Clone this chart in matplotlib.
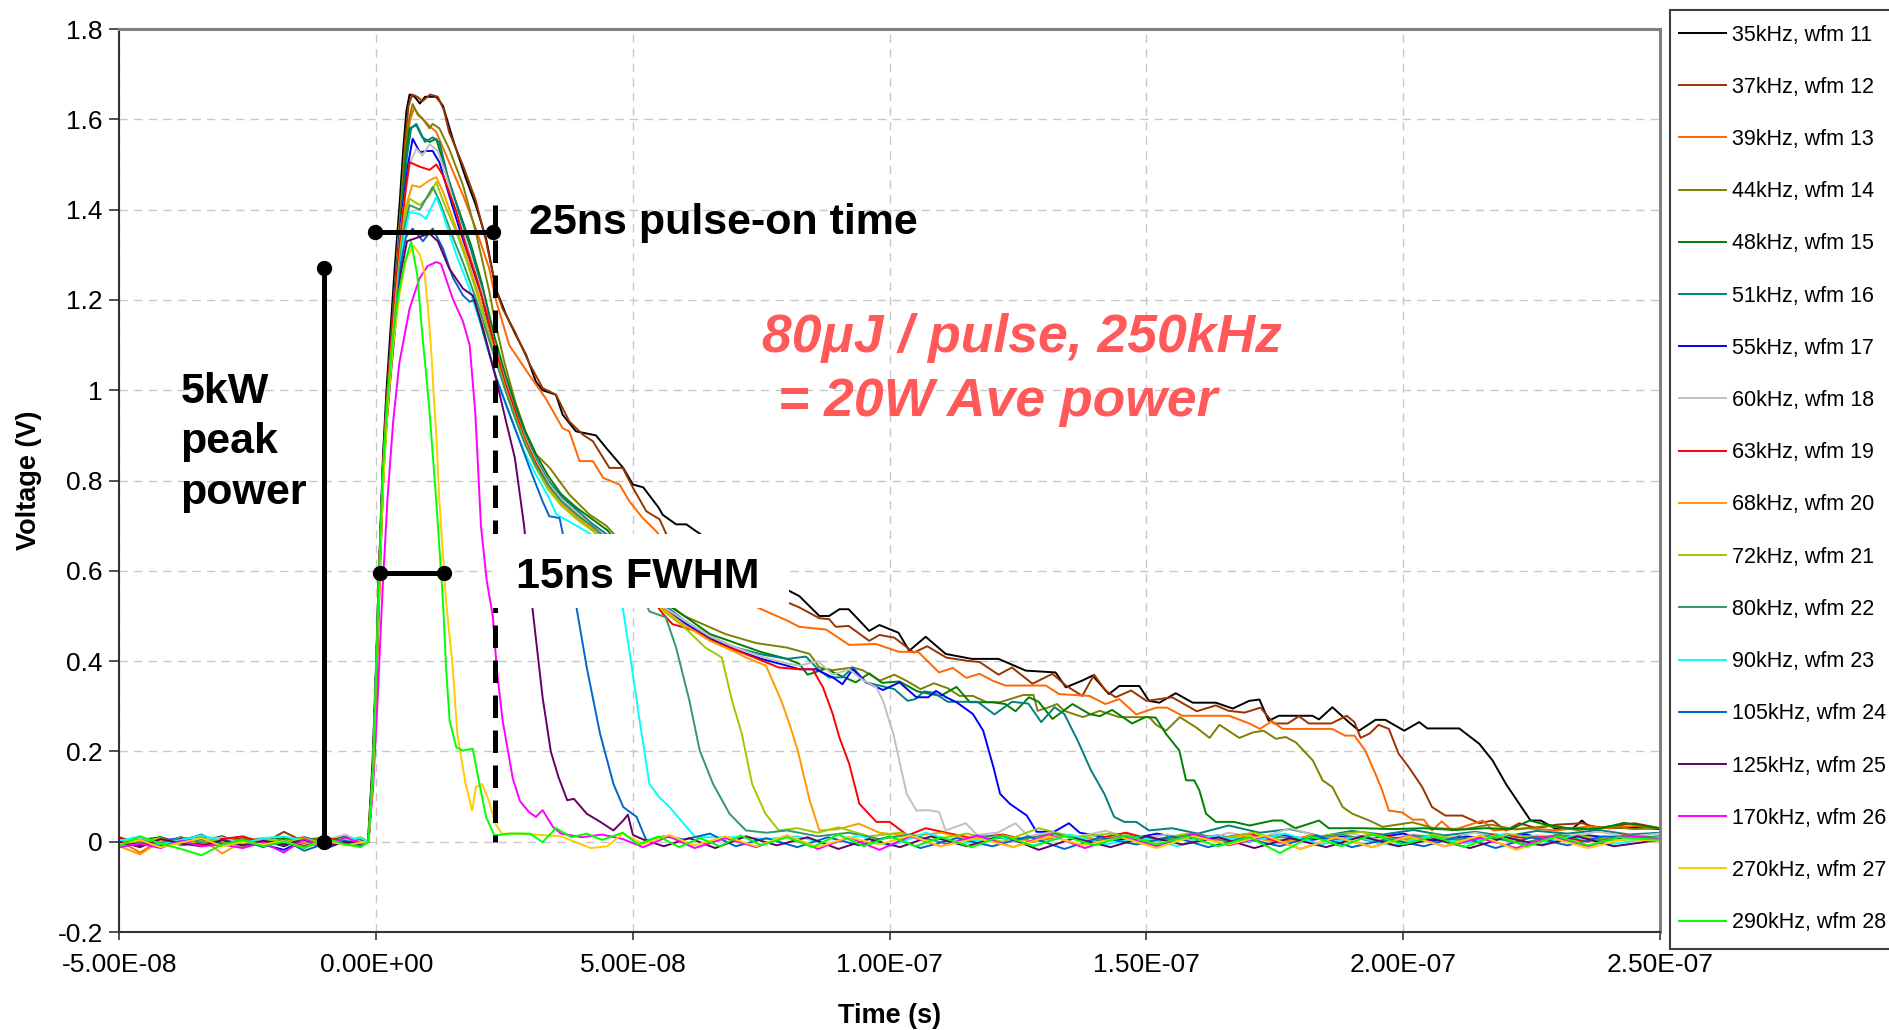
"""
Laser pulse waveforms (wfm 11 - wfm 28) at 18 rep rates, overlaid on one
time axis, with the pulse-width / peak-power call-outs drawn on top.
"""

import matplotlib
matplotlib.use("Agg")
import matplotlib.pyplot as plt
from matplotlib.patches import Rectangle

plt.rcParams['font.family'] = ['Liberation Sans', 'DejaVu Sans']

# ---------------------------------------------------------------- data
# time in ns, voltage in V. pre-trigger baseline shares one time grid
t_pre = [-50, -46, -42, -38, -34, -30, -26, -22, -18, -14, -10, -6, -3]

w11_pre = [0.005, -0.008, 0.010, -0.004, 0.002, 0.012, -0.006, 0.004, -0.010, 0.008, 0.000, -0.005, 0.004]
w11 = [(-1.6, 0.0), (-0.7, 0.18), (0.0, 0.40), (0.6, 0.62), (1.3, 0.85), (2.0, 1.0), (2.7, 1.12), (3.6, 1.27),
       (4.6, 1.42), (5.3, 1.54), (5.9, 1.62), (6.5, 1.655), (7.5, 1.65), (8.5, 1.635), (9.5, 1.65), (11.7, 1.65),
       (13.0, 1.63), (14.9, 1.557), (17.5, 1.468), (19.4, 1.41), (21.4, 1.336), (23.3, 1.225), (25.3, 1.167),
       (27.2, 1.122), (29.2, 1.078), (31.1, 1.019), (32.4, 1.0), (35.0, 0.99), (36.3, 0.946), (38.9, 0.909),
       (42.8, 0.90), (44.8, 0.872), (48.1, 0.828), (50.0, 0.791), (52.0, 0.785), (55.0, 0.74), (55.8, 0.724),
       (58.4, 0.703), (60.4, 0.703), (62, 0.69), (66, 0.66), (70, 0.63), (74, 0.60), (78, 0.57), (82.4, 0.544),
       (86.3, 0.50), (88.2, 0.50), (90.2, 0.515), (92, 0.515), (96, 0.467), (98, 0.48), (101.7, 0.463),
       (103.8, 0.423), (107, 0.454), (110.9, 0.416), (116, 0.405), (121.2, 0.405), (126.5, 0.379), (132.3, 0.375),
       (134.3, 0.342), (137.5, 0.357), (139.5, 0.368), (142.7, 0.327), (144.7, 0.345), (148.6, 0.345),
       (150.5, 0.312), (152.5, 0.308), (155.7, 0.329), (159, 0.308), (163.5, 0.308), (166.8, 0.295), (170, 0.312),
       (172, 0.315), (173.8, 0.268), (175.8, 0.279), (182.3, 0.279), (183.6, 0.271), (186.2, 0.298),
       (189.4, 0.265), (191.4, 0.246), (194.6, 0.27), (196.5, 0.27), (200.2, 0.246), (203.1, 0.265),
       (204.7, 0.251), (210.9, 0.251), (214.8, 0.217), (217.4, 0.18), (220, 0.128), (222.6, 0.084),
       (224.8, 0.047), (226.8, 0.047), (229.6, 0.029), (233, 0.029), (234.8, 0.047), (236, 0.035), (240, 0.03),
       (245, 0.032), (250, 0.028)]

w12_pre = [-0.004, 0.006, -0.002, 0.010, -0.006, 0.002, 0.008, -0.004, 0.022, 0.000, 0.006, -0.002, 0.002]
w12 = [(-1.5, 0.0), (-0.5, 0.17), (0.2, 0.40), (0.8, 0.62), (1.5, 0.84), (2.2, 0.99), (3.0, 1.12), (3.9, 1.27),
       (4.9, 1.42), (5.6, 1.55), (6.3, 1.63), (7.0, 1.655), (8.0, 1.65), (9.0, 1.64), (10.5, 1.655), (12.0, 1.65),
       (13.2, 1.62), (14.2, 1.572), (16.9, 1.498), (19.4, 1.42), (21.4, 1.33), (23.3, 1.225), (24.6, 1.181),
       (27.0, 1.13), (29.8, 1.06), (32.4, 1.005), (35.0, 0.99), (37.6, 0.931), (40.2, 0.902), (42.2, 0.887),
       (45.4, 0.828), (48.0, 0.828), (50.0, 0.784), (52.6, 0.732), (55.2, 0.714), (56.5, 0.681), (60, 0.66),
       (65, 0.62), (70, 0.59), (76, 0.55), (82.4, 0.519), (86.3, 0.495), (88.2, 0.493), (89.5, 0.476),
       (92, 0.478), (96, 0.445), (98, 0.458), (100.9, 0.452), (104.7, 0.419), (107.3, 0.433), (111, 0.408),
       (114.9, 0.401), (117.5, 0.398), (121.2, 0.37), (123.8, 0.386), (127.8, 0.35), (131.7, 0.372),
       (134.3, 0.346), (137.5, 0.323), (139.8, 0.37), (142, 0.335), (144, 0.32), (147, 0.335), (150, 0.312),
       (155, 0.32), (159.8, 0.289), (163.5, 0.302), (166, 0.29), (169.1, 0.286), (172.2, 0.297), (174.8, 0.262),
       (177.5, 0.262), (179.7, 0.278), (181.6, 0.262), (186, 0.262), (189, 0.279), (190.5, 0.265), (191.7, 0.23),
       (193.5, 0.24), (195.2, 0.259), (197.2, 0.25), (199.1, 0.195), (201.1, 0.165), (203.7, 0.121),
       (205.6, 0.077), (208.2, 0.058), (211.5, 0.058), (214.8, 0.041), (217.4, 0.047), (220, 0.025),
       (222.6, 0.041), (226, 0.03), (230, 0.038), (235, 0.041), (238, 0.03), (245, 0.041), (250, 0.03)]

w13_pre = [0.002, -0.024, 0.004, -0.006, 0.010, -0.002, 0.006, -0.008, 0.004, 0.010, -0.004, 0.006, -0.002]
w13 = [(-1.5, 0.0), (-0.5, 0.17), (0.2, 0.40), (0.8, 0.62), (1.5, 0.84), (2.3, 0.99), (3.1, 1.12), (4.0, 1.27),
       (5.0, 1.42), (5.8, 1.53), (6.6, 1.60), (7.4, 1.625), (8.3, 1.61), (9.1, 1.601), (10.4, 1.585),
       (11.7, 1.572), (14.2, 1.505), (16.9, 1.432), (19.4, 1.358), (22.0, 1.27), (23.3, 1.20), (25.9, 1.10),
       (29.8, 1.034), (33.0, 0.982), (36.3, 0.916), (37.6, 0.909), (39.6, 0.843), (42.2, 0.843), (44.2, 0.806),
       (47.4, 0.791), (49.3, 0.754), (51.9, 0.717), (54.5, 0.688), (58, 0.64), (63, 0.59), (68, 0.55),
       (72, 0.53), (76, 0.51), (80, 0.49), (82.4, 0.476), (87.6, 0.47), (92.1, 0.436), (97.3, 0.438),
       (101.7, 0.421), (105.6, 0.42), (109.6, 0.375), (112.3, 0.385), (114.9, 0.363), (117.5, 0.372),
       (120, 0.357), (122.5, 0.346), (130.4, 0.346), (133, 0.327), (138.9, 0.323), (142, 0.305), (144.7, 0.316),
       (148, 0.282), (151.9, 0.297), (154, 0.297), (157, 0.279), (166.1, 0.279), (170, 0.262), (172.1, 0.25),
       (174.4, 0.267), (176.5, 0.25), (186.1, 0.25), (188.7, 0.235), (190.5, 0.235), (192.6, 0.202),
       (194.6, 0.15), (195.9, 0.114), (197.2, 0.069), (199.8, 0.065), (201.8, 0.049), (204, 0.049),
       (205.6, 0.025), (207.5, 0.045), (209.5, 0.025), (215.5, 0.047), (217.5, 0.025), (224, 0.03), (230, 0.025),
       (236, 0.034), (240, 0.03), (245, 0.035), (250, 0.03)]

w14_pre = [0.008, 0.000, -0.010, 0.006, 0.012, -0.004, 0.002, 0.008, -0.006, 0.004, 0.010, -0.002, 0.000]
w14 = [(-1.6, 0.0), (-0.7, 0.16), (0.0, 0.38), (0.6, 0.60), (1.3, 0.82), (2.0, 0.97), (2.8, 1.10), (3.8, 1.26),
       (4.8, 1.41), (5.6, 1.53), (6.4, 1.60), (7.1, 1.634), (8.1, 1.61), (9.1, 1.60), (10.4, 1.58), (11.0, 1.59),
       (12.3, 1.58), (14.2, 1.535), (16.9, 1.454), (19.4, 1.35), (22.0, 1.22), (23.0, 1.16), (25.0, 1.06),
       (27.2, 0.97), (29.0, 0.91), (31.2, 0.857), (33.8, 0.828), (37.6, 0.769), (41.5, 0.725), (44.8, 0.70),
       (48, 0.66), (52, 0.60), (56, 0.535), (60, 0.50), (64, 0.48), (68, 0.46), (74, 0.44), (80, 0.43),
       (84.4, 0.416), (86.3, 0.386), (88.9, 0.38), (92.8, 0.386), (94.7, 0.38), (98.1, 0.357), (100.9, 0.37),
       (103.5, 0.355), (106, 0.338), (108.6, 0.351), (111.3, 0.34), (113.6, 0.323), (116.2, 0.323),
       (118.9, 0.309), (121.5, 0.309), (124, 0.318), (126, 0.325), (128, 0.325), (128.8, 0.29), (131, 0.298),
       (132.6, 0.305), (134, 0.29), (137.6, 0.276), (140.9, 0.29), (144.7, 0.276), (150.5, 0.276),
       (151.9, 0.259), (153.8, 0.246), (156.5, 0.276), (159.7, 0.253), (162.3, 0.23), (164.2, 0.259),
       (168.1, 0.23), (170.7, 0.242), (172.8, 0.246), (175.2, 0.228), (177.1, 0.232), (179.1, 0.22),
       (182.4, 0.18), (184.3, 0.136), (186.2, 0.121), (188.2, 0.077), (190.1, 0.062), (193.4, 0.047),
       (196, 0.033), (201.8, 0.043), (206, 0.03), (212, 0.028), (217, 0.038), (222, 0.027), (228, 0.035),
       (234, 0.026), (240, 0.034), (245, 0.028), (250, 0.03)]

w15_pre = [-0.006, 0.004, 0.010, -0.008, 0.000, 0.006, -0.012, 0.002, 0.008, -0.004, 0.002, 0.012, -0.006]
w15 = [(-1.5, 0.0), (-0.6, 0.17), (0.0, 0.39), (0.6, 0.61), (1.3, 0.83), (2.0, 0.97), (2.8, 1.09), (3.8, 1.24),
       (4.8, 1.38), (5.6, 1.50), (6.5, 1.58), (7.8, 1.587), (9.0, 1.56), (10.4, 1.55), (11.7, 1.557),
       (13.6, 1.483), (16.2, 1.395), (18.5, 1.32), (20.5, 1.24), (23.0, 1.12), (25.0, 1.04), (27.0, 0.97),
       (29.0, 0.91), (31.0, 0.86), (33.5, 0.81), (36.0, 0.77), (39.0, 0.74), (42.0, 0.715), (45.0, 0.69),
       (48, 0.65), (52, 0.59), (56, 0.53), (60, 0.50), (65, 0.46), (70, 0.44), (75, 0.42), (80, 0.405),
       (82.4, 0.394), (84, 0.37), (87.5, 0.383), (90, 0.37), (93.4, 0.353), (96, 0.373), (98.5, 0.352),
       (101.9, 0.355), (105.4, 0.333), (109.9, 0.323), (113, 0.343), (115.6, 0.309), (120, 0.309),
       (122.5, 0.305), (124.5, 0.289), (127.1, 0.32), (129, 0.31), (131.7, 0.272), (135.6, 0.305),
       (138.9, 0.283), (140.9, 0.278), (143.3, 0.292), (147.2, 0.262), (149.8, 0.276), (151.8, 0.275),
       (153.8, 0.239), (156.4, 0.202), (157.7, 0.136), (159.3, 0.136), (160.3, 0.114), (161.6, 0.062),
       (163.5, 0.044), (167, 0.044), (170.1, 0.036), (174.6, 0.047), (176.4, 0.047), (179, 0.03),
       (183.6, 0.047), (185.5, 0.03), (192, 0.03), (198, 0.028), (204, 0.03), (210, 0.026), (216, 0.03),
       (221, 0.028), (224.6, 0.047), (227, 0.04), (232, 0.03), (238, 0.028), (243, 0.042), (250, 0.03)]

w16_pre = [0.000, 0.010, -0.004, 0.002, 0.016, -0.006, 0.004, 0.000, -0.008, 0.010, -0.002, 0.006, 0.002]
w16 = [(-1.5, 0.0), (-0.6, 0.16), (0.0, 0.38), (0.6, 0.60), (1.3, 0.82), (2.0, 0.96), (2.8, 1.08), (3.8, 1.23),
       (4.8, 1.37), (6.0, 1.52), (6.8, 1.58), (7.8, 1.59), (9.5, 1.55), (11.0, 1.56), (12.3, 1.55), (14.0, 1.47),
       (16.5, 1.38), (18.5, 1.31), (20.5, 1.23), (23.0, 1.10), (25.0, 1.03), (27.0, 0.96), (29.0, 0.90),
       (31.0, 0.85), (33.5, 0.80), (36.0, 0.765), (39.0, 0.735), (42.0, 0.705), (45.0, 0.68), (48, 0.64),
       (52, 0.58), (56, 0.525), (60, 0.49), (65, 0.455), (70, 0.43), (75, 0.415), (80, 0.405), (83.7, 0.41),
       (86.3, 0.379), (88.2, 0.364), (90.8, 0.364), (92.8, 0.386), (95.4, 0.353), (100.9, 0.338),
       (103.5, 0.312), (105, 0.316), (106.7, 0.333), (108.6, 0.33), (111.3, 0.31), (117.1, 0.31),
       (120.4, 0.282), (123.8, 0.31), (127, 0.306), (129.5, 0.265), (132.1, 0.298), (134, 0.283),
       (136.6, 0.224), (139.2, 0.158), (141.8, 0.106), (143.7, 0.055), (145.7, 0.044), (148, 0.044),
       (150.5, 0.025), (155, 0.03), (160, 0.018), (166, 0.036), (172, 0.02), (178, 0.028), (184, 0.012),
       (190, 0.024), (196, 0.016), (202, 0.026), (208, 0.014), (214, 0.022), (220, 0.012), (226, 0.024),
       (232, 0.018), (238, 0.026), (244, 0.016), (250, 0.02)]

w17_pre = [0.006, -0.004, 0.002, 0.008, -0.010, 0.004, 0.000, -0.006, -0.018, 0.004, -0.016, 0.002, -0.004]
w17 = [(-1.5, 0.0), (-0.6, 0.17), (0.0, 0.39), (0.6, 0.61), (1.3, 0.83), (2.0, 0.97), (2.8, 1.09), (3.8, 1.24),
       (4.8, 1.37), (6.2, 1.50), (7.1, 1.557), (8.5, 1.527), (9.7, 1.53), (11.0, 1.53), (12.3, 1.505),
       (14.2, 1.432), (16.2, 1.358), (18.2, 1.29), (20.5, 1.21), (23.0, 1.09), (25.0, 1.02), (27.0, 0.95),
       (29.0, 0.89), (31.0, 0.84), (33.5, 0.79), (36.0, 0.755), (39.0, 0.725), (42.0, 0.70), (45.0, 0.67),
       (48, 0.63), (52, 0.57), (56, 0.52), (60, 0.485), (65, 0.45), (70, 0.425), (75, 0.405), (80, 0.39),
       (82.4, 0.382), (85.6, 0.382), (88.9, 0.364), (90.8, 0.349), (92.8, 0.382), (95.4, 0.353), (98.7, 0.336),
       (101.9, 0.353), (105.2, 0.32), (107.5, 0.32), (109, 0.334), (111, 0.32), (113, 0.309), (116.2, 0.283),
       (118.2, 0.246), (120.2, 0.165), (121.5, 0.106), (123.4, 0.084), (126.7, 0.058), (128.6, 0.022),
       (132, 0.022), (134.9, 0.041), (137, 0.02), (141, 0.012), (146, 0.004), (152, 0.018), (158, 0.006),
       (164, 0.014), (170, 0.0), (176, 0.016), (182, 0.004), (188, 0.012), (194, 0.008), (200, 0.018),
       (206, 0.002), (212, 0.012), (218, 0.006), (224, 0.016), (230, 0.0), (236, 0.014), (243, 0.006),
       (250, 0.012)]

w18_pre = [-0.002, 0.008, 0.000, -0.006, 0.004, 0.010, -0.004, 0.006, 0.002, -0.008, 0.004, 0.016, 0.000]
w18 = [(-1.5, 0.0), (-0.6, 0.16), (0.0, 0.38), (0.6, 0.60), (1.3, 0.82), (2.0, 0.96), (2.8, 1.08), (3.8, 1.23),
       (4.8, 1.36), (6.5, 1.50), (7.8, 1.535), (9.0, 1.52), (10.4, 1.545), (12.0, 1.53), (13.5, 1.48),
       (16.0, 1.38), (18.3, 1.30), (20.5, 1.22), (23.0, 1.10), (25.0, 1.025), (27.0, 0.955), (29.0, 0.895),
       (31.0, 0.845), (33.5, 0.795), (36.0, 0.76), (39.0, 0.73), (42.0, 0.70), (45.0, 0.675), (48, 0.635),
       (52, 0.575), (56, 0.52), (60, 0.49), (65, 0.455), (70, 0.43), (75, 0.41), (80, 0.395), (82.4, 0.39),
       (86, 0.40), (88.9, 0.37), (92.1, 0.382), (94.5, 0.36), (97.4, 0.342), (98.7, 0.312), (100.7, 0.239),
       (102, 0.173), (103.3, 0.106), (105.2, 0.069), (107.5, 0.07), (109.6, 0.066), (110.9, 0.025),
       (114.8, 0.041), (117, 0.015), (121, 0.02), (124.5, 0.041), (127, 0.012), (131, 0.02), (136, 0.01),
       (142, 0.024), (148, 0.006), (154, 0.016), (160, 0.0), (166, 0.02), (172, 0.008), (178, 0.03),
       (184, 0.01), (190, 0.018), (196, 0.004), (202, 0.016), (208, 0.008), (214, 0.02), (220, 0.006),
       (226, 0.014), (232, 0.012), (238, 0.022), (244, 0.012), (250, 0.018)]

w19_pre = [0.010, -0.006, 0.004, 0.000, -0.008, 0.006, 0.012, -0.002, 0.004, -0.010, 0.008, 0.002, 0.006]
w19 = [(-1.5, 0.0), (-0.6, 0.17), (0.0, 0.39), (0.6, 0.61), (1.3, 0.83), (2.0, 0.97), (2.8, 1.09), (3.8, 1.23),
       (4.8, 1.35), (5.8, 1.45), (6.5, 1.505), (8.5, 1.495), (10.4, 1.488), (11.7, 1.50), (13.0, 1.476),
       (15.6, 1.395), (17.6, 1.314), (19.5, 1.25), (21.5, 1.17), (23.0, 1.10), (25.0, 1.02), (27.0, 0.955),
       (29.0, 0.89), (31.0, 0.84), (33.5, 0.79), (36.0, 0.75), (39.0, 0.72), (42.0, 0.695), (45.0, 0.665),
       (48, 0.625), (52, 0.565), (55.8, 0.505), (57.7, 0.482), (62.2, 0.467), (65.4, 0.445), (71.9, 0.416),
       (78.4, 0.386), (82.4, 0.382), (85, 0.382), (87, 0.342), (88.9, 0.283), (90.2, 0.231), (92.1, 0.173),
       (94.1, 0.084), (97.4, 0.044), (100, 0.044), (103.5, 0.014), (107, 0.03), (111, 0.02), (116, 0.008),
       (122, 0.016), (128, 0.0), (134, 0.014), (140, 0.006), (146, 0.02), (152, 0.002), (158, 0.012),
       (164, 0.008), (170, 0.018), (176, -0.002), (182, 0.014), (188, 0.004), (194, 0.016), (200, 0.006),
       (206, 0.012), (212, 0.002), (218, 0.016), (224, 0.008), (230, 0.012), (236, 0.0), (243, 0.014),
       (250, 0.008)]

w20_pre = [-0.010, -0.028, 0.002, -0.004, 0.006, -0.026, 0.000, -0.008, 0.004, -0.002, -0.010, 0.004, -0.006]
w20 = [(-1.5, 0.0), (-0.6, 0.16), (0.0, 0.38), (0.6, 0.60), (1.3, 0.81), (2.0, 0.95), (2.8, 1.07), (3.8, 1.20),
       (4.8, 1.32), (5.6, 1.40), (7.0, 1.454), (8.5, 1.45), (10.4, 1.465), (11.7, 1.472), (13.0, 1.44),
       (15.6, 1.358), (17.8, 1.29), (20.0, 1.21), (23.0, 1.085), (25.0, 1.01), (27.0, 0.945), (29.0, 0.885),
       (31.0, 0.835), (33.5, 0.785), (36.0, 0.75), (39.0, 0.72), (42.0, 0.695), (45.0, 0.665), (48, 0.625),
       (52, 0.565), (56, 0.515), (60, 0.48), (65, 0.445), (70, 0.42), (72, 0.408), (75.9, 0.39), (78.9, 0.312),
       (80.5, 0.26), (82.1, 0.202), (84.4, 0.092), (86.3, 0.025), (90, 0.028), (94, 0.04), (98, 0.02),
       (104, 0.012), (110, 0.02), (116, 0.004), (122, 0.014), (128, 0.0), (134, 0.016), (140, 0.006),
       (146, 0.012), (152, 0.0), (158, 0.018), (164, 0.004), (170, 0.012), (176, -0.004), (182, 0.014),
       (188, 0.006), (194, 0.016), (200, 0.0), (206, 0.012), (212, 0.004), (218, 0.014), (224, -0.002),
       (230, 0.012), (236, 0.006), (243, 0.014), (250, 0.01)]

w21_pre = [0.004, 0.000, 0.008, -0.006, 0.002, 0.004, -0.010, 0.006, 0.000, 0.008, -0.004, 0.002, 0.010]
w21 = [(-1.5, 0.0), (-0.6, 0.16), (0.0, 0.38), (0.6, 0.59), (1.3, 0.80), (2.0, 0.94), (2.8, 1.06), (3.8, 1.18),
       (4.7, 1.30), (5.5, 1.38), (6.5, 1.424), (8.5, 1.41), (10.4, 1.432), (11.7, 1.461), (13.0, 1.42),
       (15.6, 1.35), (17.8, 1.28), (20.0, 1.20), (23.0, 1.08), (25.0, 1.005), (27.0, 0.94), (29.0, 0.88),
       (31.0, 0.83), (33.5, 0.78), (36.0, 0.745), (39.0, 0.715), (42.0, 0.69), (45.0, 0.66), (48, 0.62),
       (52, 0.56), (56, 0.51), (60, 0.475), (64.1, 0.43), (67.3, 0.408), (69.3, 0.312), (71.2, 0.239),
       (73.2, 0.128), (75.8, 0.062), (78.4, 0.025), (82, 0.03), (86, 0.02), (90, 0.032), (96, 0.012),
       (102, 0.02), (108, 0.004), (115, 0.018), (122, 0.0), (129, 0.03), (136, 0.01), (143, 0.018),
       (150, 0.002), (157, 0.016), (164, 0.006), (171, 0.02), (178, -0.002), (185, 0.014), (192, 0.022),
       (199, 0.004), (206, 0.016), (213, -0.002), (220, 0.018), (227, 0.006), (234, 0.014), (241, 0.002),
       (250, 0.012)]

w22_pre = [-0.008, 0.002, -0.004, 0.010, -0.002, -0.010, 0.006, -0.006, 0.002, -0.012, 0.000, 0.004, -0.008]
w22 = [(-1.5, 0.0), (-0.6, 0.16), (0.0, 0.37), (0.6, 0.59), (1.3, 0.80), (2.0, 0.94), (2.8, 1.05), (3.8, 1.17),
       (4.7, 1.29), (5.5, 1.36), (6.5, 1.41), (8.5, 1.40), (11.0, 1.45), (12.3, 1.42), (14.9, 1.34),
       (17.0, 1.28), (19.5, 1.20), (23.0, 1.075), (25.0, 1.005), (27.0, 0.94), (29.0, 0.88), (31.0, 0.835),
       (33.5, 0.79), (36.0, 0.755), (39.0, 0.725), (42.0, 0.70), (45.0, 0.67), (48, 0.63), (51, 0.57),
       (53.2, 0.51), (56.4, 0.497), (58.4, 0.43), (61, 0.312), (63, 0.202), (65.6, 0.128), (68.8, 0.062),
       (72, 0.025), (76, 0.02), (80, 0.025), (86, 0.012), (92, 0.02), (98, 0.006), (104, 0.016), (111, -0.004),
       (118, 0.012), (125, 0.004), (132, 0.018), (139, 0.0), (146, 0.014), (153, 0.004), (160, 0.018),
       (167, -0.004), (174, 0.012), (181, 0.006), (188, 0.016), (195, -0.002), (202, 0.014), (209, 0.004),
       (216, 0.012), (223, -0.004), (230, 0.016), (237, 0.002), (244, 0.012), (250, 0.01)]

w23_pre = [0.002, 0.012, -0.006, 0.004, 0.014, 0.002, -0.004, 0.008, 0.012, 0.002, -0.006, 0.004, 0.008]
w23 = [(-1.5, 0.0), (-0.6, 0.16), (0.0, 0.38), (0.6, 0.59), (1.3, 0.80), (2.0, 0.93), (2.8, 1.04), (3.8, 1.16),
       (4.6, 1.27), (5.4, 1.34), (6.5, 1.395), (8.5, 1.39), (9.7, 1.38), (11.7, 1.428), (13.0, 1.39),
       (15.6, 1.30), (18.0, 1.23), (20.5, 1.14), (23.0, 1.04), (25.0, 0.975), (27.0, 0.915), (29.0, 0.86),
       (31.0, 0.815), (33.5, 0.765), (35.1, 0.725), (39, 0.70), (42, 0.68), (45, 0.64), (48, 0.519),
       (49.3, 0.423), (51.2, 0.276), (53.2, 0.128), (55, 0.10), (57.1, 0.077), (61, 0.025), (62.2, 0.01),
       (66, 0.01), (70, 0.01), (76, 0.006), (82, 0.012), (88, -0.006), (94, 0.014), (100, -0.01), (107, 0.02),
       (114, -0.004), (121, 0.012), (128, -0.008), (135, 0.016), (142, -0.006), (149, 0.01), (156, -0.01),
       (163, 0.014), (170, 0.0), (177, 0.018), (184, -0.006), (191, 0.01), (198, -0.008), (205, 0.012),
       (212, -0.004), (219, 0.016), (226, -0.008), (233, 0.012), (240, -0.006), (250, 0.01)]

w24_pre = [-0.004, 0.004, -0.010, 0.000, 0.006, -0.008, 0.002, -0.012, 0.004, -0.020, -0.004, 0.002, -0.010]
w24 = [(-1.5, 0.0), (-0.6, 0.16), (0.0, 0.38), (0.6, 0.59), (1.3, 0.80), (2.0, 0.93), (2.8, 1.04), (3.8, 1.16),
       (4.8, 1.28), (5.8, 1.34), (7.1, 1.358), (9.1, 1.33), (11.0, 1.358), (13.0, 1.314), (14.9, 1.25),
       (16.9, 1.21), (18.2, 1.196), (19.2, 1.20), (20.8, 1.13), (23.3, 1.03), (25.9, 0.95), (28.5, 0.87),
       (29.8, 0.83), (32.4, 0.754), (33.7, 0.721), (35.7, 0.717), (37.5, 0.62), (39, 0.519), (41, 0.386),
       (43.6, 0.239), (46.2, 0.128), (48.1, 0.077), (50.7, 0.055), (52.6, 0.003), (56, 0.012), (60, 0.005),
       (65, 0.018), (70, -0.01), (76, 0.008), (82, -0.012), (88, 0.01), (94, -0.008), (100, 0.012),
       (106, -0.014), (113, 0.008), (120, -0.01), (127, 0.012), (134, -0.016), (141, 0.01), (148, -0.006),
       (155, 0.012), (162, -0.012), (169, 0.008), (176, -0.01), (183, 0.014), (190, -0.012), (197, 0.006),
       (204, -0.01), (211, 0.012), (218, -0.014), (225, 0.01), (232, -0.008), (239, 0.012), (250, 0.006)]

w25_pre = [0.000, -0.012, 0.006, -0.004, -0.010, 0.004, -0.008, 0.002, -0.006, 0.004, -0.012, 0.000, -0.004]
w25 = [(-1.5, 0.0), (-0.6, 0.15), (0.0, 0.37), (0.6, 0.58), (1.3, 0.79), (2.0, 0.92), (2.8, 1.03), (3.8, 1.15),
       (4.8, 1.26), (6.0, 1.33), (8.5, 1.34), (10.4, 1.347), (12.0, 1.33), (14.2, 1.27), (16.9, 1.225),
       (18.8, 1.21), (20.8, 1.137), (23.3, 1.027), (25.3, 0.93), (27.0, 0.85), (28.8, 0.70), (30.2, 0.54),
       (32.4, 0.32), (34.0, 0.20), (35.5, 0.143), (37.2, 0.092), (38.5, 0.095), (41, 0.062), (43.5, 0.045),
       (46.2, 0.025), (48.1, 0.047), (49, 0.06), (50, 0.015), (52, 0.005), (56, -0.01), (61, 0.008),
       (66, -0.014), (72, 0.012), (78, -0.008), (84, 0.01), (90, -0.016), (96, 0.006), (102, -0.012),
       (108, 0.012), (115, -0.01), (122, 0.014), (129, -0.018), (136, 0.008), (143, -0.012), (150, 0.012),
       (157, -0.006), (164, 0.01), (171, -0.014), (178, 0.008), (185, -0.012), (192, 0.012), (199, -0.01),
       (206, 0.006), (213, -0.014), (220, 0.01), (227, -0.008), (234, 0.012), (241, -0.01), (250, 0.004)]

w26_pre = [-0.012, -0.004, -0.014, 0.002, -0.010, -0.006, -0.014, -0.002, -0.024, 0.006, -0.012, 0.010, -0.004]
w26 = [(-1.5, 0.0), (-0.6, 0.12), (0.3, 0.32), (1.2, 0.55), (2.2, 0.76), (3.3, 0.93), (4.5, 1.06), (6.5, 1.181),
       (8.4, 1.247), (10.0, 1.275), (11.7, 1.284), (12.6, 1.28), (14.9, 1.203), (16.9, 1.152), (18.2, 1.10),
       (19.3, 0.95), (20.4, 0.70), (21.5, 0.58), (22.7, 0.50), (23.5, 0.38), (24.6, 0.27), (26.6, 0.14),
       (28.0, 0.09), (29.8, 0.065), (31.1, 0.055), (32.4, 0.07), (34.4, 0.033), (36, 0.018), (40, 0.01),
       (44, 0.016), (48, 0.006), (52, -0.012), (57, 0.012), (62, -0.014), (68, 0.008), (74, -0.012),
       (80, 0.014), (86, -0.016), (92, 0.01), (98, -0.018), (104, 0.012), (110, -0.01), (117, 0.014),
       (124, -0.012), (131, 0.016), (138, -0.014), (145, 0.012), (152, -0.01), (159, 0.018), (166, -0.008),
       (173, 0.012), (180, -0.016), (187, 0.01), (194, -0.012), (201, 0.014), (208, -0.01), (215, 0.008),
       (222, -0.014), (229, 0.012), (236, -0.01), (243, 0.014), (250, 0.006)]

w27_pre = [-0.006, 0.004, -0.012, -0.002, 0.008, -0.010, 0.000, -0.006, 0.002, -0.014, 0.004, -0.008, -0.002]
w27 = [(-1.5, 0.0), (-0.6, 0.15), (0.0, 0.37), (0.7, 0.60), (1.4, 0.80), (2.3, 0.97), (3.3, 1.10), (4.5, 1.21),
       (5.8, 1.29), (7.3, 1.32), (8.5, 1.30), (9.4, 1.26), (10.1, 1.18), (10.7, 1.09), (11.2, 0.99), (11.7, 0.90),
       (12.3, 0.754), (13.6, 0.533), (14.9, 0.386), (15.8, 0.239), (17.4, 0.128), (18.7, 0.069), (19.4, 0.121),
       (20.6, 0.128), (21.9, 0.092), (23.2, 0.04), (24.5, 0.018), (28, 0.018), (32, 0.015), (36, 0.012),
       (41.8, -0.014), (45, -0.01), (48, 0.018), (52, -0.005), (57, 0.015), (62, -0.008), (68, 0.012),
       (74, -0.01), (80, 0.014), (86, -0.012), (92, 0.01), (98, -0.006), (104, 0.014), (110, -0.01),
       (117, 0.008), (124, -0.012), (131, 0.012), (138, -0.008), (145, 0.01), (152, -0.014), (159, 0.012),
       (166, -0.006), (173, 0.014), (180, -0.016), (187, 0.01), (194, -0.012), (201, 0.012), (208, -0.01),
       (215, 0.014), (222, -0.018), (229, 0.008), (236, -0.014), (243, 0.006), (250, 0.002)]

w28_pre = [-0.010, 0.012, -0.004, -0.016, -0.030, -0.006, 0.004, -0.010, 0.000, -0.014, 0.008, -0.006, -0.012]
w28 = [(-1.5, 0.0), (-0.6, 0.16), (0.0, 0.38), (0.6, 0.60), (1.3, 0.82), (2.2, 0.98), (3.2, 1.11), (4.3, 1.21),
       (5.5, 1.28), (6.8, 1.329), (8.0, 1.255), (9.1, 1.107), (9.7, 1.04), (10.4, 0.95), (11.7, 0.754),
       (13.0, 0.533), (13.6, 0.386), (14.3, 0.268), (15.6, 0.209), (16.9, 0.202), (18.8, 0.206), (20.1, 0.128),
       (21.4, 0.055), (23.0, 0.014), (26, 0.018), (30, 0.018), (32.4, -0.001), (35, 0.03), (38, 0.01),
       (41, 0.018), (44, 0.004), (48, 0.02), (51, -0.006), (55, 0.012), (59, -0.012), (63, 0.008), (67, -0.01),
       (71, 0.014), (75, -0.008), (80, 0.01), (85, -0.012), (90, 0.016), (95, -0.01), (100, 0.012),
       (105, -0.01), (110, 0.01), (116, -0.012), (122, 0.014), (128, -0.01), (134, 0.012), (140, -0.008),
       (146, 0.014), (152, -0.006), (158, 0.012), (164, -0.01), (170, 0.01), (176, -0.025), (182, 0.012),
       (188, -0.01), (194, 0.016), (200, -0.006), (206, 0.012), (212, -0.012), (218, 0.014), (224, -0.01),
       (230, 0.012), (236, -0.008), (242, 0.01), (250, 0.004)]

labels = ['35kHz, wfm 11', '37kHz, wfm 12', '39kHz, wfm 13', '44kHz, wfm 14', '48kHz, wfm 15',
          '51kHz, wfm 16', '55kHz, wfm 17', '60kHz, wfm 18', '63kHz, wfm 19', '68kHz, wfm 20',
          '72kHz, wfm 21', '80kHz, wfm 22', '90kHz, wfm 23', '105kHz, wfm 24', '125kHz, wfm 25',
          '170kHz, wfm 26', '270kHz, wfm 27', '290kHz, wfm 28']
colors = ['#000000', '#993300', '#FF6600', '#808000', '#008000', '#008080', '#0000FF', '#C0C0C0',
          '#FF0000', '#FF9900', '#99CC00', '#339966', '#00FFFF', '#0066CC', '#660066', '#FF00FF',
          '#FFCC00', '#00FF00']

x_ticks = [-5e-8, 0.0, 5e-8, 1e-7, 1.5e-7, 2e-7, 2.5e-7]
x_ticklabels = ['-5.00E-08', '0.00E+00', '5.00E-08', '1.00E-07', '1.50E-07', '2.00E-07', '2.50E-07']
y_ticks = [-0.2, 0.0, 0.2, 0.4, 0.6, 0.8, 1.0, 1.2, 1.4, 1.6, 1.8]
y_ticklabels = ['-0.2', '0', '0.2', '0.4', '0.6', '0.8', '1', '1.2', '1.4', '1.6', '1.8']

RED = '#FF5959'
W, H = 1890, 1030   # canvas size in px


def unpack(pre, pts):
    """baseline + pulse points -> (seconds, volts)"""
    t = [x * 1e-9 for x in t_pre] + [p[0] * 1e-9 for p in pts]
    v = list(pre) + [p[1] for p in pts]
    return t, v


def marked_line(ax, xs, ys):
    """thick black bar with round end dots"""
    ax.plot(xs, ys, color='black', lw=3.6, marker='o', markersize=10,
            solid_capstyle='butt', zorder=6)


def main():
    series = [(w11_pre, w11), (w12_pre, w12), (w13_pre, w13), (w14_pre, w14), (w15_pre, w15),
              (w16_pre, w16), (w17_pre, w17), (w18_pre, w18), (w19_pre, w19), (w20_pre, w20),
              (w21_pre, w21), (w22_pre, w22), (w23_pre, w23), (w24_pre, w24), (w25_pre, w25),
              (w26_pre, w26), (w27_pre, w27), (w28_pre, w28)]

    fig = plt.figure(figsize=(18.9, 10.3), dpi=100)
    ax = fig.add_axes([0.0632, 0.0951, 0.8151, 0.8767])

    handles = []
    for (pre, pts), lab, col in zip(series, labels, colors):
        t, v = unpack(pre, pts)
        ln, = ax.plot(t, v, color=col, lw=1.4, zorder=2, label=lab)
        handles.append(ln)

    # axes / grid
    ax.set_xlim(-5e-8, 2.5e-7)
    ax.set_ylim(-0.2, 1.8)
    ax.set_xticks(x_ticks)
    ax.set_xticklabels(x_ticklabels)
    ax.set_yticks(y_ticks)
    ax.set_yticklabels(y_ticklabels)
    ax.set_axisbelow(True)
    ax.grid(True, color='#C8C8C8', lw=1.0, linestyle=(0, (6, 4.5)))
    for side in ('left', 'bottom'):
        ax.spines[side].set_color('#333333')
        ax.spines[side].set_linewidth(1.5)
    for side in ('top', 'right'):
        ax.spines[side].set_color('#808080')
        ax.spines[side].set_linewidth(2.2)
    ax.tick_params(axis='y', direction='out', length=7, width=1.2, color='#333333',
                   pad=5, labelsize=19)
    ax.tick_params(axis='x', direction='out', length=6, width=1.2, color='#333333',
                   pad=9, labelsize=19)
    ax.set_xlabel('Time (s)', fontsize=19.5, fontweight='bold', labelpad=19)
    ax.set_ylabel('Voltage (V)', fontsize=19.5, fontweight='bold', labelpad=11)

    # call-outs
    ax.plot([23.2e-9, 23.2e-9], [1.41, 0.0], color='black', lw=3.6,
            linestyle=(0, (4.5, 2.5)), zorder=3)
    ax.add_patch(Rectangle((22.8e-9, 0.518), 57.6e-9, 0.163, facecolor='white',
                           edgecolor='none', zorder=5))
    marked_line(ax, [-10.2e-9, -10.2e-9], [0.0, 1.27])
    marked_line(ax, [-0.3e-9, 22.7e-9], [1.351, 1.351])
    marked_line(ax, [0.66e-9, 13.2e-9], [0.596, 0.596])

    bold = dict(fontsize=31, fontweight='bold', color='black', zorder=7, va='baseline')
    ax.text(29.8e-9, 1.346, '25ns pulse-on time', **bold)
    ax.text(27.3e-9, 0.563, '15ns FWHM', **bold)
    ax.text(-38.1e-9, 0.972, '5kW', **bold)
    ax.text(-38.1e-9, 0.860, 'peak', **bold)
    ax.text(-38.1e-9, 0.748, 'power', **bold)

    red = dict(fontsize=38.5, fontweight='bold', fontstyle='italic', color=RED, zorder=7, va='baseline')
    ax.text(75.2e-9, 1.084, '80\u03bcJ / pulse, 250kHz', **red)
    ax.text(78.2e-9, 0.944, '= 20W Ave power', **red)

    # legend: frame drawn separately so it can run off the right edge
    fig.add_artist(Rectangle((1670 / W, 1 - 949 / H), 260 / W, 939 / H,
                             transform=fig.transFigure, facecolor='white',
                             edgecolor='#404040', lw=1.5, zorder=1))
    fig.legend(handles=handles, labels=labels, loc='upper left',
               bbox_to_anchor=(1679 / W, 1 - 24.5 / H), frameon=False,
               fontsize=15.5, handlelength=2.2, handletextpad=0.28, labelspacing=1.45,
               borderpad=0, borderaxespad=0)

    fig.savefig('out.png', dpi=100, facecolor='white')


if __name__ == "__main__":
    main()
